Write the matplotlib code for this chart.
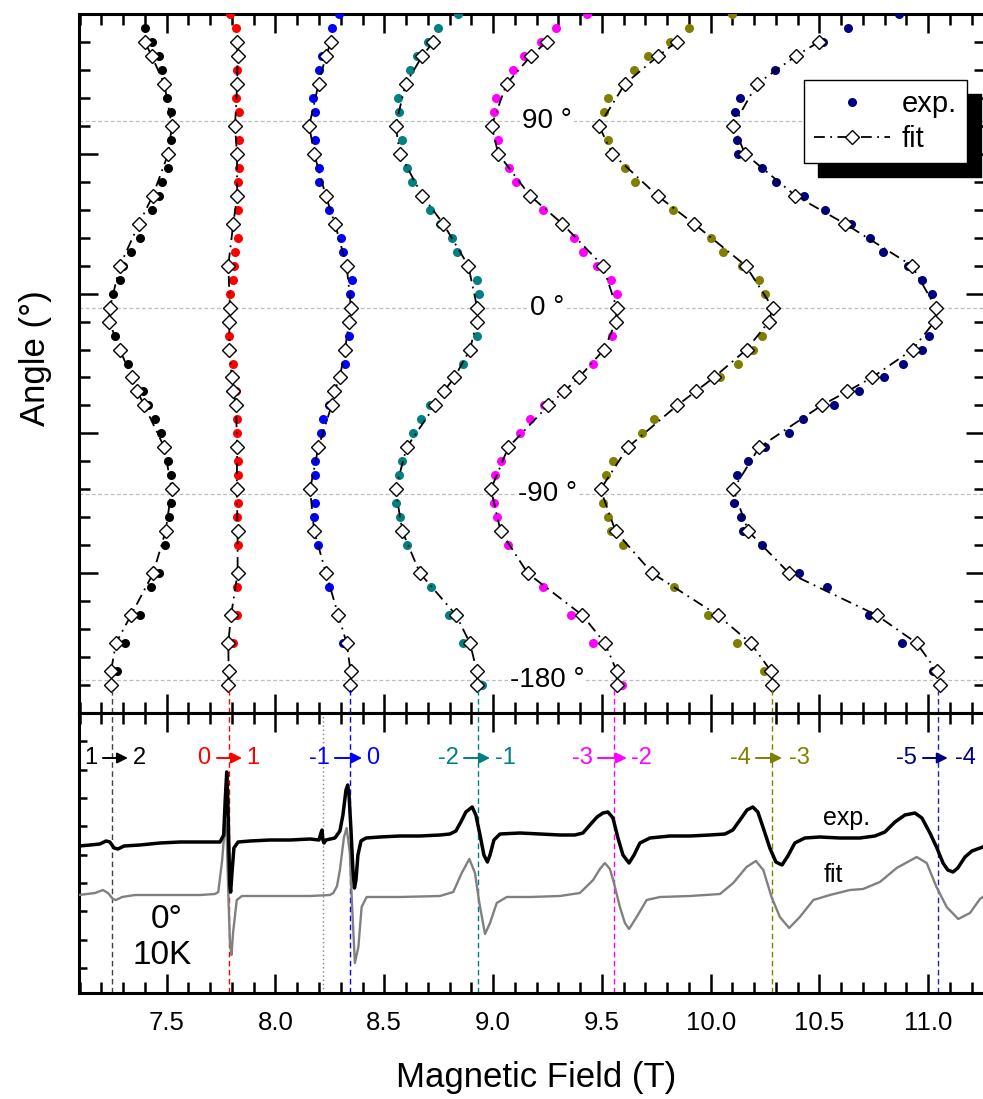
import numpy as np
import matplotlib
matplotlib.use('Agg')
import matplotlib.pyplot as plt
from matplotlib.ticker import MultipleLocator
from matplotlib.lines import Line2D

plt.rcParams['font.family'] = ['Liberation Sans', 'DejaVu Sans']

# ---------------- angular dependence (top panel) ----------------
# measurement index -> angle: 135 deg at index 0, step 6.75 deg
ANGLE0 = 135.0
ANGLE_STEP = 6.75

fit_rows = [1, 2, 4, 7, 9, 12, 14, 17, 20, 21, 23, 25, 26, 27, 30, 33, 36, 39, 42, 44, 46, 47]

black_exp_rows = [0, 1, 2, 3, 5, 6, 8, 10, 11, 12, 13, 15, 16, 17, 18, 19, 22, 24, 26, 27, 28, 29, 31, 32, 34, 35, 37, 39, 40, 42, 44, 46]
black_exp_B = [7.400, 7.434, 7.463, 7.478, 7.500, 7.520, 7.520, 7.507, 7.478, 7.463, 7.431, 7.379, 7.335, 7.301, 7.285, 7.255, 7.262, 7.321, 7.390, 7.413, 7.446, 7.472, 7.507, 7.518, 7.518, 7.510, 7.492, 7.466, 7.426, 7.377, 7.308, 7.273]
black_fit_B = [7.400, 7.431, 7.489, 7.524, 7.507, 7.436, 7.373, 7.285, 7.239, 7.236, 7.285, 7.339, 7.365, 7.397, 7.489, 7.523, 7.495, 7.438, 7.336, 7.267, 7.244, 7.243]

red_exp_rows = [-1, 0, 3, 5, 6, 8, 10, 11, 13, 15, 16, 17, 18, 19, 22, 24, 26, 28, 29, 31, 32, 34, 35, 37, 40, 42, 44]
red_exp_B = [7.791, 7.817, 7.823, 7.820, 7.831, 7.831, 7.831, 7.826, 7.826, 7.826, 7.814, 7.811, 7.803, 7.791, 7.788, 7.806, 7.818, 7.822, 7.824, 7.826, 7.826, 7.829, 7.822, 7.826, 7.822, 7.824, 7.806]
red_fit_B = [7.823, 7.826, 7.824, 7.814, 7.823, 7.824, 7.806, 7.783, 7.791, 7.788, 7.788, 7.799, 7.806, 7.818, 7.824, 7.822, 7.826, 7.826, 7.796, 7.783, 7.785, 7.783]

blue_exp_rows = [-1, 0, 2, 3, 5, 6, 8, 10, 11, 13, 15, 16, 18, 19, 22, 24, 27, 28, 29, 31, 32, 34, 35, 37, 40, 44]
blue_exp_B = [8.293, 8.261, 8.212, 8.198, 8.174, 8.181, 8.183, 8.200, 8.201, 8.246, 8.300, 8.309, 8.350, 8.342, 8.338, 8.319, 8.246, 8.217, 8.208, 8.181, 8.181, 8.181, 8.177, 8.194, 8.246, 8.310]
blue_fit_B = [8.255, 8.232, 8.198, 8.155, 8.178, 8.231, 8.273, 8.327, 8.347, 8.339, 8.319, 8.296, 8.270, 8.258, 8.197, 8.159, 8.178, 8.232, 8.289, 8.327, 8.345, 8.342]

teal_exp_rows = [-1, 0, 1, 2, 3, 5, 6, 8, 10, 11, 13, 14, 15, 16, 18, 19, 22, 24, 27, 28, 29, 31, 32, 34, 35, 37, 40, 42, 44, 47]
teal_exp_B = [8.840, 8.748, 8.699, 8.649, 8.618, 8.562, 8.568, 8.580, 8.603, 8.626, 8.710, 8.756, 8.810, 8.833, 8.925, 8.935, 8.925, 8.863, 8.710, 8.667, 8.633, 8.580, 8.568, 8.556, 8.572, 8.603, 8.713, 8.797, 8.860, 8.948]
teal_fit_B = [8.725, 8.675, 8.598, 8.552, 8.572, 8.675, 8.771, 8.886, 8.927, 8.925, 8.894, 8.822, 8.774, 8.733, 8.603, 8.552, 8.583, 8.664, 8.830, 8.894, 8.925, 8.927]

magenta_exp_rows = [-1, 0, 1, 2, 3, 5, 6, 8, 10, 11, 13, 15, 16, 17, 18, 19, 22, 24, 26, 27, 28, 29, 31, 32, 34, 35, 37, 40, 42, 44, 47]
magenta_exp_B = [9.430, 9.289, 9.220, 9.143, 9.093, 9.012, 9.004, 9.021, 9.074, 9.105, 9.228, 9.373, 9.412, 9.476, 9.542, 9.568, 9.548, 9.460, 9.315, 9.234, 9.170, 9.124, 9.035, 9.009, 9.004, 9.016, 9.070, 9.231, 9.357, 9.458, 9.591]
magenta_fit_B = [9.246, 9.174, 9.062, 8.993, 9.024, 9.170, 9.318, 9.504, 9.568, 9.565, 9.510, 9.395, 9.326, 9.254, 9.070, 8.990, 9.035, 9.159, 9.410, 9.514, 9.568, 9.568]

olive_exp_rows = [-1, 0, 1, 2, 3, 5, 6, 8, 10, 11, 13, 15, 16, 17, 18, 19, 22, 23, 24, 25, 28, 29, 31, 32, 34, 35, 36, 37, 40, 42, 44, 46]
olive_exp_B = [10.099, 9.902, 9.813, 9.713, 9.648, 9.527, 9.511, 9.527, 9.606, 9.652, 9.825, 10.001, 10.058, 10.142, 10.222, 10.250, 10.234, 10.194, 10.127, 10.043, 9.739, 9.686, 9.552, 9.519, 9.506, 9.529, 9.540, 9.598, 9.831, 9.986, 10.119, 10.246]
olive_fit_B = [9.844, 9.759, 9.606, 9.487, 9.548, 9.756, 9.923, 10.161, 10.285, 10.268, 10.165, 10.015, 9.931, 9.846, 9.619, 9.494, 9.563, 9.732, 10.032, 10.184, 10.277, 10.283]

navy_exp_rows = [-1, 0, 1, 3, 5, 6, 8, 9, 10, 11, 12, 13, 14, 15, 16, 17, 18, 19, 22, 23, 24, 25, 26, 27, 28, 29, 30, 31, 32, 34, 35, 36, 37, 39, 40, 42, 44, 46]
navy_exp_B = [10.867, 10.632, 10.517, 10.295, 10.135, 10.112, 10.119, 10.127, 10.234, 10.300, 10.430, 10.525, 10.645, 10.732, 10.790, 10.905, 10.970, 11.016, 11.005, 10.970, 10.882, 10.798, 10.681, 10.569, 10.426, 10.358, 10.250, 10.171, 10.121, 10.107, 10.139, 10.148, 10.234, 10.408, 10.537, 10.726, 10.878, 11.023]
navy_fit_B = [10.497, 10.392, 10.213, 10.104, 10.158, 10.390, 10.617, 10.925, 11.035, 11.029, 10.928, 10.742, 10.627, 10.510, 10.223, 10.104, 10.173, 10.361, 10.763, 10.947, 11.039, 11.056]

series_colors = ['#000000', '#ff0000', '#0000ff', '#008080', '#ff00ff', '#808000', '#000080']
series = [
    (black_exp_rows, black_exp_B, black_fit_B),
    (red_exp_rows, red_exp_B, red_fit_B),
    (blue_exp_rows, blue_exp_B, blue_fit_B),
    (teal_exp_rows, teal_exp_B, teal_fit_B),
    (magenta_exp_rows, magenta_exp_B, magenta_fit_B),
    (olive_exp_rows, olive_exp_B, olive_fit_B),
    (navy_exp_rows, navy_exp_B, navy_fit_B),
]

grid_angles = [90, 0, -90, -180]
grid_labels = ['90 °', '0 °', '-90 °', '-180 °']

# ---------------- spectrum at 0 deg, 10 K (bottom panel, arb. units) ----------------
exp_B = [7.097, 7.148, 7.193, 7.221, 7.239, 7.258, 7.276, 7.304, 7.377, 7.469,
         7.561, 7.653, 7.722, 7.745, 7.762, 7.769, 7.776, 7.781, 7.786, 7.790,
         7.794, 7.801, 7.809, 7.828, 7.883, 7.975, 8.067, 8.159, 8.200, 8.209,
         8.214, 8.218, 8.223, 8.232, 8.273, 8.296, 8.310, 8.324, 8.332, 8.338,
         8.347, 8.356, 8.363, 8.370, 8.379, 8.393, 8.416, 8.480, 8.572, 8.664,
         8.756, 8.802, 8.829, 8.852, 8.875, 8.904, 8.921, 8.940, 8.958, 8.974,
         8.986, 9.004, 9.032, 9.124, 9.216, 9.307, 9.376, 9.413, 9.445, 9.478,
         9.505, 9.528, 9.551, 9.574, 9.597, 9.625, 9.648, 9.675, 9.721, 9.813,
         9.905, 9.997, 10.066, 10.102, 10.135, 10.167, 10.194, 10.217, 10.245, 10.272,
         10.300, 10.328, 10.355, 10.387, 10.433, 10.502, 10.594, 10.686, 10.755, 10.801,
         10.847, 10.893, 10.939, 10.971, 11.008, 11.040, 11.068, 11.090, 11.114, 11.136,
         11.169, 11.201, 11.251]
exp_S = [37, 38, 39, 42, 41, 35, 34, 37, 38, 40,
         41, 41, 41, 41, 48, 83, 111, 83, 33, -2,
         -9, 13, 35, 41, 42, 43, 43, 44, 43, 50,
         53, 43, 40, 43, 45, 52, 68, 93, 98, 88,
         53, 13, -5, 3, 28, 42, 45, 46, 47, 47,
         48, 49, 52, 61, 71, 76, 68, 48, 28, 21,
         28, 43, 49, 50, 49, 48, 48, 50, 58, 66,
         70, 71, 65, 45, 28, 20, 28, 40, 45, 47,
         47, 48, 49, 53, 63, 73, 76, 71, 53, 35,
         21, 18, 27, 40, 45, 46, 45, 45, 47, 51,
         61, 68, 70, 65, 50, 35, 20, 13, 11, 15,
         26, 32, 36]

fit_B = [7.097, 7.171, 7.207, 7.230, 7.253, 7.267, 7.295, 7.354, 7.469, 7.653,
         7.722, 7.737, 7.755, 7.763, 7.770, 7.777, 7.784, 7.791, 7.798, 7.805,
         7.822, 7.846, 7.975, 8.159, 8.250, 8.266, 8.283, 8.296, 8.315, 8.327,
         8.342, 8.353, 8.365, 8.381, 8.396, 8.419, 8.572, 8.756, 8.817, 8.856,
         8.891, 8.917, 8.937, 8.963, 8.986, 9.017, 9.063, 9.170, 9.307, 9.399,
         9.460, 9.491, 9.514, 9.537, 9.552, 9.583, 9.606, 9.625, 9.660, 9.706,
         9.767, 9.905, 10.043, 10.104, 10.165, 10.208, 10.242, 10.280, 10.318, 10.361,
         10.410, 10.472, 10.548, 10.640, 10.701, 10.778, 10.855, 10.947, 10.993, 11.038,
         11.085, 11.138, 11.192, 11.238, 11.251]
fit_S = [-12, -10, -7, -10, -16, -17, -14, -12, -12, -12,
         -11, -9, 23, 45, 62, 40, -17, -60, -72, -50,
         -17, -13, -13, -13, -12, -10, -3, 13, 46, 55,
         30, -27, -80, -64, -24, -14, -14, -13, -9, 10,
         24, 10, -20, -51, -40, -20, -14, -14, -13, -10,
         3, 14, 20, 14, 3, -24, -40, -46, -34, -17,
         -14, -13, -11, 0, 16, 22, 13, -14, -34, -45,
         -34, -17, -12, -7, -6, 1, 15, 26, 20, -4,
         -24, -36, -30, -16, -14]

# resonance fields at 0 deg and transition labels
res_B = [7.247, 7.786, 8.342, 8.932, 9.557, 10.280, 11.043]
res_colors = ['#404040', '#ff0000', '#0000ff', '#008080', '#ff00ff', '#808000', '#2020c0']
extra_line_B = 8.217
trans_from = ['1', '0', '-1', '-2', '-3', '-4', '-5']
trans_to = ['2', '1', '0', '-1', '-2', '-3', '-4']
lab_from_B = [7.152, 7.671, 8.204, 8.793, 9.409, 10.135, 10.898]
arrow_start_B = [7.207, 7.731, 8.273, 8.866, 9.482, 10.208, 10.976]
arrow_end_B = [7.322, 7.846, 8.398, 8.986, 9.615, 10.328, 11.090]
lab_to_B = [7.373, 7.897, 8.448, 9.055, 9.680, 10.406, 11.169]

# ---------------- figure ----------------
W, H = 983, 1099
fig = plt.figure(figsize=(W / 100, H / 100), dpi=100)


def frame(x0, y0, x1, y1):
    return [x0 / W, 1 - y1 / H, (x1 - x0) / W, (y1 - y0) / H]


ax = fig.add_axes(frame(79, 14, 985, 713))
axb = fig.add_axes(frame(79, 713, 985, 993))

for a in (ax, axb):
    for s in a.spines.values():
        s.set_linewidth(2.2)
    a.set_xlim(7.097, 11.261)
    a.xaxis.set_major_locator(MultipleLocator(0.5))
    a.xaxis.set_minor_locator(MultipleLocator(0.1))
    a.tick_params(axis='x', which='both', direction='in', top=True, bottom=True, width=1.8)
    a.tick_params(axis='x', which='major', length=13.5)
    a.tick_params(axis='x', which='minor', length=8)

ax.tick_params(axis='x', labelbottom=False)
ax.set_ylim(-195.75, 141.75)
ax.yaxis.set_major_locator(MultipleLocator(67.5, offset=6.75))
ax.yaxis.set_minor_locator(MultipleLocator(13.5, offset=6.75))
ax.tick_params(axis='y', which='both', direction='in', left=True, right=True,
               labelleft=False, width=1.8)
ax.tick_params(axis='y', which='major', length=14)
ax.tick_params(axis='y', which='minor', length=8)

for g in grid_angles:
    ax.axhline(g, color='#bdbdbd', lw=0.9, ls=(0, (3, 2)), zorder=0.5)
for g, t in zip(grid_angles, grid_labels):
    ax.text(9.248, g, t, fontsize=20, ha='center', va='center', zorder=6,
            bbox=dict(facecolor='white', edgecolor='none', pad=1.5))

for (rows, eB, fB), c in zip(series, series_colors):
    ea = ANGLE0 - ANGLE_STEP * np.asarray(rows, dtype=float)
    fa = ANGLE0 - ANGLE_STEP * np.asarray(fit_rows, dtype=float)
    ax.plot(eB, ea, 'o', color=c, ms=6.5, mec='none', zorder=3)
    ax.plot(fB, fa, color='black', lw=1.3, ls=(0, (6, 3, 1, 3)), zorder=4)
    ax.plot(fB, fa, 'D', ms=7.6, mfc='white', mec='black', mew=1.0, zorder=5)

h_exp = Line2D([], [], ls='none', marker='o', color='#000080', ms=6.5, mec='none')
h_fit = Line2D([], [], color='black', lw=1.3, ls=(0, (6, 3, 1, 3)), marker='D', ms=7.6,
               mfc='white', mec='black', mew=1.0)
leg = ax.legend([h_exp, h_fit], ['exp.', 'fit'], loc='upper right',
                bbox_to_anchor=(0.980, 0.906), borderaxespad=0, fontsize=21,
                handlelength=2.6, handletextpad=0.4, borderpad=0.35, labelspacing=0.25,
                fancybox=False, framealpha=1, edgecolor='black', numpoints=1,
                shadow={'ox': 10, 'oy': -10, 'facecolor': 'black', 'edgecolor': 'black', 'alpha': 1})
leg.get_frame().set_linewidth(1.0)

# bottom panel
axb.set_ylim(-110, 170)
axb.yaxis.set_major_locator(MultipleLocator(28.33))
axb.tick_params(axis='y', which='major', direction='in', left=True, right=False,
                labelleft=False, length=6, width=1.8)
axb.tick_params(axis='x', which='major', labelsize=18.5, pad=13)

axb.plot(fit_B, fit_S, color='#808080', lw=1.7, zorder=3)
axb.plot(exp_B, exp_S, color='black', lw=2.5, zorder=4)

for b, c in zip(res_B, res_colors):
    axb.plot([b, b], [-110, 195], color=c, lw=1.0, ls=(0, (4, 2.5)), clip_on=False, zorder=2)
axb.plot([extra_line_B, extra_line_B], [-110, 170], color='#808080', lw=1.0, ls=(0, (1, 2)), zorder=2)

for i in range(len(res_B)):
    c = series_colors[i]
    axb.text(lab_from_B[i], 125, trans_from[i], color=c, fontsize=17, ha='center', va='center')
    axb.text(lab_to_B[i], 125, trans_to[i], color=c, fontsize=17, ha='center', va='center')
    axb.annotate('', xy=(arrow_end_B[i], 125), xytext=(arrow_start_B[i], 125),
                 arrowprops=dict(arrowstyle='-|>', color=c, lw=1.4, mutation_scale=16,
                                 shrinkA=0, shrinkB=0))

axb.text(10.626, 65, 'exp.', fontsize=18, ha='center', va='center')
axb.text(10.562, 8, 'fit', fontsize=18, ha='center', va='center')
axb.text(7.500, -37, '0°', fontsize=24, ha='center', va='center')
axb.text(7.478, -72, '10K', fontsize=24, ha='center', va='center')

fig.text(536 / W, 1 - 1077 / H, 'Magnetic Field (T)', fontsize=25, ha='center', va='center')
fig.text(35 / W, 1 - 358 / H, 'Angle (°)', fontsize=25, rotation=90, ha='center', va='center')

fig.savefig('out.png', dpi=100)
